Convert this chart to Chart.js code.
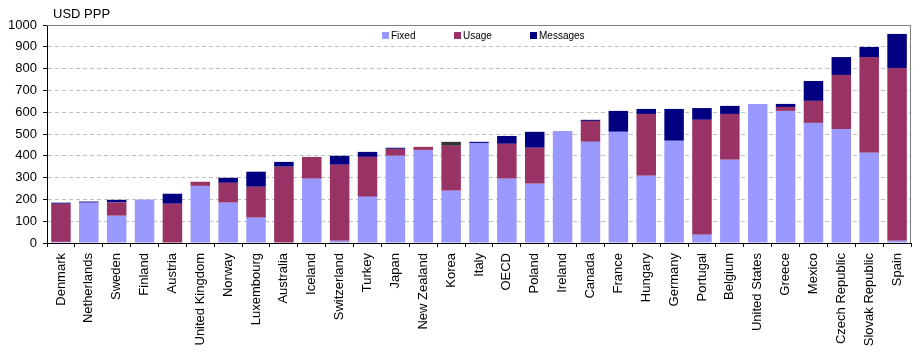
<!DOCTYPE html>
<html>
<head>
<meta charset="utf-8">
<script src="https://cdn.jsdelivr.net/npm/chart.js@4"></script>
<style>
  html, body { margin: 0; padding: 0; background: #fff; }
  #wrap { width: 924px; height: 354px; }
</style>
</head>
<body>
<div id="wrap"><canvas id="chart" width="924" height="354"></canvas></div>
<script>
// データ
const countries = ["Denmark", "Netherlands", "Sweden", "Finland", "Austria", "United Kingdom", "Norway",
  "Luxembourg", "Australia", "Iceland", "Switzerland", "Turkey", "Japan", "New Zealand", "Korea", "Italy",
  "OECD", "Poland", "Ireland", "Canada", "France", "Hungary", "Germany", "Portugal", "Belgium",
  "United States", "Greece", "Mexico", "Czech Republic", "Slovak Republic", "Spain"];

const fixed    = [5, 185, 125, 200, 0, 262, 185, 116, 0, 295, 10, 212, 400, 427, 240, 459,
  295, 272, 514, 464, 510, 308, 469, 38, 382, 638, 606, 551, 523, 414, 10];
const usage    = [175, 0, 61, 0, 180, 19, 91, 142, 350, 100, 349, 183, 32, 14, 206, 0,
  160, 165, 0, 96, 0, 284, 0, 527, 210, 0, 18, 101, 248, 439, 793];
const messages = [5, 5, 12, 0, 46, 0, 23, 69, 22, 0, 41, 23, 5, 0, 0, 5,
  36, 73, 0, 5, 96, 23, 146, 54, 37, 0, 14, 91, 82, 46, 156];
// 韓国のみの灰色部分（凡例なし）
const other    = [0, 0, 0, 0, 0, 0, 0, 0, 0, 0, 0, 0, 0, 0, 18, 0,
  0, 0, 0, 0, 0, 0, 0, 0, 0, 0, 0, 0, 0, 0, 0];

const yTicks = [0, 100, 200, 300, 400, 500, 600, 700, 800, 900, 1000];
const FONT = "'Liberation Sans', Arial, sans-serif";

// 凡例・枠線・単位を描くプラグイン
const decoPlugin = {
  id: "deco",
  afterDraw(c) {
    const ctx = c.ctx;
    const a = c.chartArea;
    ctx.save();
    // 上と右の枠線
    ctx.strokeStyle = "#808080";
    ctx.lineWidth = 1;
    ctx.beginPath();
    ctx.moveTo(a.left, a.top + 0.5);
    ctx.lineTo(a.right - 0.5, a.top + 0.5);
    ctx.lineTo(a.right - 0.5, a.bottom);
    ctx.stroke();
    // 単位
    ctx.fillStyle = "#000";
    ctx.font = "13px " + FONT;
    ctx.textBaseline = "middle";
    ctx.fillText("USD PPP", 53, 14);
    // 凡例
    const legendX = [382, 454, 530];
    ctx.font = "10px " + FONT;
    c.data.datasets.filter(d => !d.noLegend).forEach((d, i) => {
      ctx.fillStyle = d.backgroundColor;
      ctx.fillRect(legendX[i], 32, 7, 7);
      ctx.fillStyle = "#000";
      ctx.fillText(d.label, legendX[i] + 9, 36);
    });
    ctx.restore();
  }
};

const ctx = document.getElementById("chart").getContext("2d");
const chart = new Chart(ctx, {
  type: "bar",
  data: {
    labels: countries,
    datasets: [
      { label: "Fixed", data: fixed, backgroundColor: "#9999FF" },
      { label: "Usage", data: usage, backgroundColor: "#993366" },
      { label: "Messages", data: messages, backgroundColor: "#000080" },
      { label: "Other", data: other, backgroundColor: "#333333", noLegend: true }
    ]
  },
  options: {
    responsive: false,
    animation: false,
    devicePixelRatio: 1,
    layout: { padding: { top: 25, right: 13, left: 0, bottom: 0 } },
    datasets: { bar: { barPercentage: 0.7, categoryPercentage: 1.0, borderWidth: 0 } },
    plugins: {
      legend: { display: false },
      title: { display: false },
      tooltip: { enabled: false }
    },
    scales: {
      x: {
        stacked: true,
        afterFit: s => { s.height = 111; },
        grid: { drawOnChartArea: false, tickColor: "#000", tickLength: 4, offset: true },
        border: { color: "#000", width: 1 },
        ticks: {
          color: "#000",
          font: { family: FONT, size: 13 },
          minRotation: 90,
          maxRotation: 90,
          autoSkip: false,
          padding: 6
        }
      },
      y: {
        stacked: true,
        min: 0,
        max: 1000,
        afterFit: s => { s.width = 47; },
        afterBuildTicks: s => { s.ticks = yTicks.map(v => ({ value: v })); },
        grid: {
          color: "#C0C0C0",
          tickColor: "#000",
          tickLength: 4,
          tickBorderDash: []
        },
        border: { color: "#000", width: 1, dash: [4, 3] },
        ticks: {
          color: "#000",
          font: { family: FONT, size: 13 },
          padding: 6,
          callback: v => String(v)
        }
      }
    }
  },
  plugins: [decoPlugin]
});
</script>
</body>
</html>
